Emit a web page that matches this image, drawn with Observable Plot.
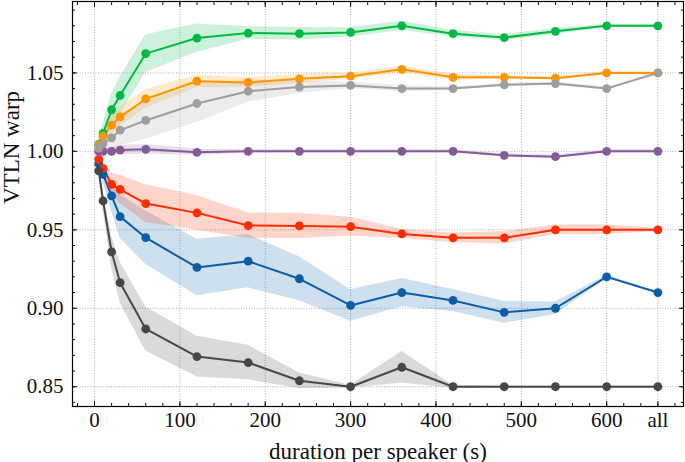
<!DOCTYPE html>
<html>
<head>
<meta charset="utf-8">
<script src="https://cdn.jsdelivr.net/npm/d3@7"></script>
<script src="https://cdn.jsdelivr.net/npm/@observablehq/plot@0.6"></script>
<style>
  html, body { margin: 0; padding: 0; background: #fff; }
  #chart svg { display: block; }
</style>
</head>
<body>
<div id="chart"></div>
<script>
// durations per speaker (s); 660 stands for "all"
const durations = [5, 10, 20, 30, 60, 120, 180, 240, 300, 360, 420, 480, 540, 600, 660];
const xTickValues = [0, 100, 200, 300, 400, 500, 600, 660];
const xTickLabels = ["0", "100", "200", "300", "400", "500", "600", "all"];
const yTickValues = [0.85, 0.90, 0.95, 1.00, 1.05];

const seriesNames = ["S1", "S2", "S3", "S4", "S5", "S6", "S7"];
const seriesColors = ["#0C5DA5", "#00B945", "#FF9500", "#FF2C00", "#845B97", "#474747", "#9e9e9e"];

// mean VTLN warp per series
const s1 = [0.992, 0.9854, 0.9716, 0.9584, 0.945, 0.926, 0.930, 0.9188, 0.9018, 0.910, 0.905, 0.8974, 0.900, 0.920, 0.910];
const s2 = [1.0045, 1.0114, 1.0265, 1.0356, 1.0623, 1.0722, 1.0754, 1.075, 1.0758, 1.080, 1.075, 1.0725, 1.0765, 1.080, 1.080];
const s3 = [1.004, 1.0097, 1.0167, 1.022, 1.0334, 1.0447, 1.0439, 1.0462, 1.0479, 1.0523, 1.0472, 1.0472, 1.0466, 1.050, 1.050];
const s4 = [0.9949, 0.989, 0.979, 0.9758, 0.9667, 0.9608, 0.9527, 0.9525, 0.952, 0.9474, 0.9449, 0.9449, 0.950, 0.950, 0.950];
const s5 = [1.000, 1.000, 1.000, 1.0008, 1.0013, 0.9994, 1.000, 1.000, 1.000, 1.000, 1.000, 0.9975, 0.9966, 1.000, 1.000];
const s6 = [0.9875, 0.9684, 0.936, 0.9163, 0.8868, 0.8692, 0.8654, 0.8538, 0.850, 0.8624, 0.850, 0.850, 0.850, 0.850, 0.850];
const s7 = [1.002, 1.005, 1.0086, 1.0135, 1.0197, 1.0305, 1.0383, 1.041, 1.042, 1.040, 1.040, 1.0424, 1.0432, 1.040, 1.050];

// half-width of the shaded band per series
const s1Spread = [0.003, 0.005, 0.010, 0.014, 0.017, 0.018, 0.017, 0.014, 0.010, 0.009, 0.007, 0.007, 0.004, 0.001, 0.0005];
const s2Spread = [0.004, 0.006, 0.010, 0.012, 0.012, 0.009, 0.004, 0.004, 0.003, 0.003, 0.002, 0.002, 0.002, 0.001, 0.001];
const s3Spread = [0.003, 0.005, 0.006, 0.006, 0.006, 0.004, 0.003, 0.003, 0.002, 0.002, 0.002, 0.001, 0.001, 0.001, 0.001];
const s4Spread = [0.002, 0.005, 0.007, 0.009, 0.012, 0.011, 0.008, 0.008, 0.006, 0.003, 0.003, 0.004, 0.003, 0.003, 0.001];
const s5Spread = [0.002, 0.002, 0.002, 0.003, 0.003, 0.002, 0.001, 0.001, 0.001, 0.001, 0.001, 0.001, 0.001, 0.001, 0.001];
const s6Spread = [0.003, 0.006, 0.010, 0.013, 0.014, 0.013, 0.011, 0.005, 0.001, 0.010, 0.001, 0.0005, 0.0005, 0.0005, 0.0005];
const s7Spread = [0.003, 0.005, 0.008, 0.010, 0.012, 0.012, 0.007, 0.004, 0.002, 0.002, 0.001, 0.001, 0.001, 0.001, 0.001];

const seriesValues = [s1, s2, s3, s4, s5, s6, s7];
const seriesSpreads = [s1Spread, s2Spread, s3Spread, s4Spread, s5Spread, s6Spread, s7Spread];

const rows = [];
seriesNames.forEach((name, s) => {
  durations.forEach((d, i) => {
    const v = seriesValues[s][i], e = seriesSpreads[s][i];
    rows.push({series: name, duration: d, warp: v, lo: v - e, hi: v + e});
  });
});

const minorX = d3.range(-20, 681, 20);
const minorY = d3.range(84, 110).map(v => v / 100);
const blank = () => "";
const gridStyle = {stroke: "#9a9a9a", strokeOpacity: 1, strokeWidth: 0.8, strokeDasharray: "1,1.6"};

const chart = Plot.plot({
  width: 685,
  height: 462,
  marginLeft: 72,
  marginRight: 2,
  marginTop: 1,
  marginBottom: 56,
  style: {fontFamily: "'Liberation Serif', 'DejaVu Serif', serif", fontSize: "21px", color: "#111", background: "#fff"},
  x: {domain: [-25.8, 690], axis: null},
  y: {domain: [0.8374, 1.0955], axis: null},
  color: {domain: seriesNames, range: seriesColors},
  marks: [
    Plot.gridX(xTickValues, gridStyle),
    Plot.gridY(yTickValues, gridStyle),
    Plot.areaY(rows, {x: "duration", y1: "lo", y2: "hi", z: "series", fill: "series", fillOpacity: 0.2}),
    Plot.lineY(rows, {x: "duration", y: "warp", z: "series", stroke: "series", strokeWidth: 2}),
    Plot.dot(rows, {x: "duration", y: "warp", fill: "series", r: 4.4}),
    // major axes
    Plot.axisX(xTickValues, {anchor: "bottom", tickSize: -5, tickPadding: 11,
      tickFormat: d => xTickLabels[xTickValues.indexOf(d)], label: null}),
    Plot.axisX(xTickValues, {anchor: "top", tickSize: -5, tickFormat: blank, label: null}),
    Plot.axisY(yTickValues, {anchor: "left", tickSize: -5, tickPadding: 14,
      tickFormat: d3.format(".2f"), label: null}),
    Plot.axisY(yTickValues, {anchor: "right", tickSize: -5, tickFormat: blank, label: null}),
    // minor ticks
    Plot.axisX(minorX, {anchor: "bottom", tickSize: -3, tickFormat: blank, label: null}),
    Plot.axisX(minorX, {anchor: "top", tickSize: -3, tickFormat: blank, label: null}),
    Plot.axisY(minorY, {anchor: "left", tickSize: -3, tickFormat: blank, label: null}),
    Plot.axisY(minorY, {anchor: "right", tickSize: -3, tickFormat: blank, label: null}),
    // axis titles
    Plot.text(["duration per speaker (s)"], {frameAnchor: "bottom", dy: 52, lineAnchor: "bottom", fontSize: 23, fill: "#111"}),
    Plot.text(["VTLN warp"], {frameAnchor: "left", dx: -70, rotate: -90, lineAnchor: "top", fontSize: 23, fill: "#111"}),
    Plot.frame({stroke: "#000", strokeWidth: 1.2})
  ]
});
document.getElementById("chart").append(chart);
</script>
</body>
</html>
